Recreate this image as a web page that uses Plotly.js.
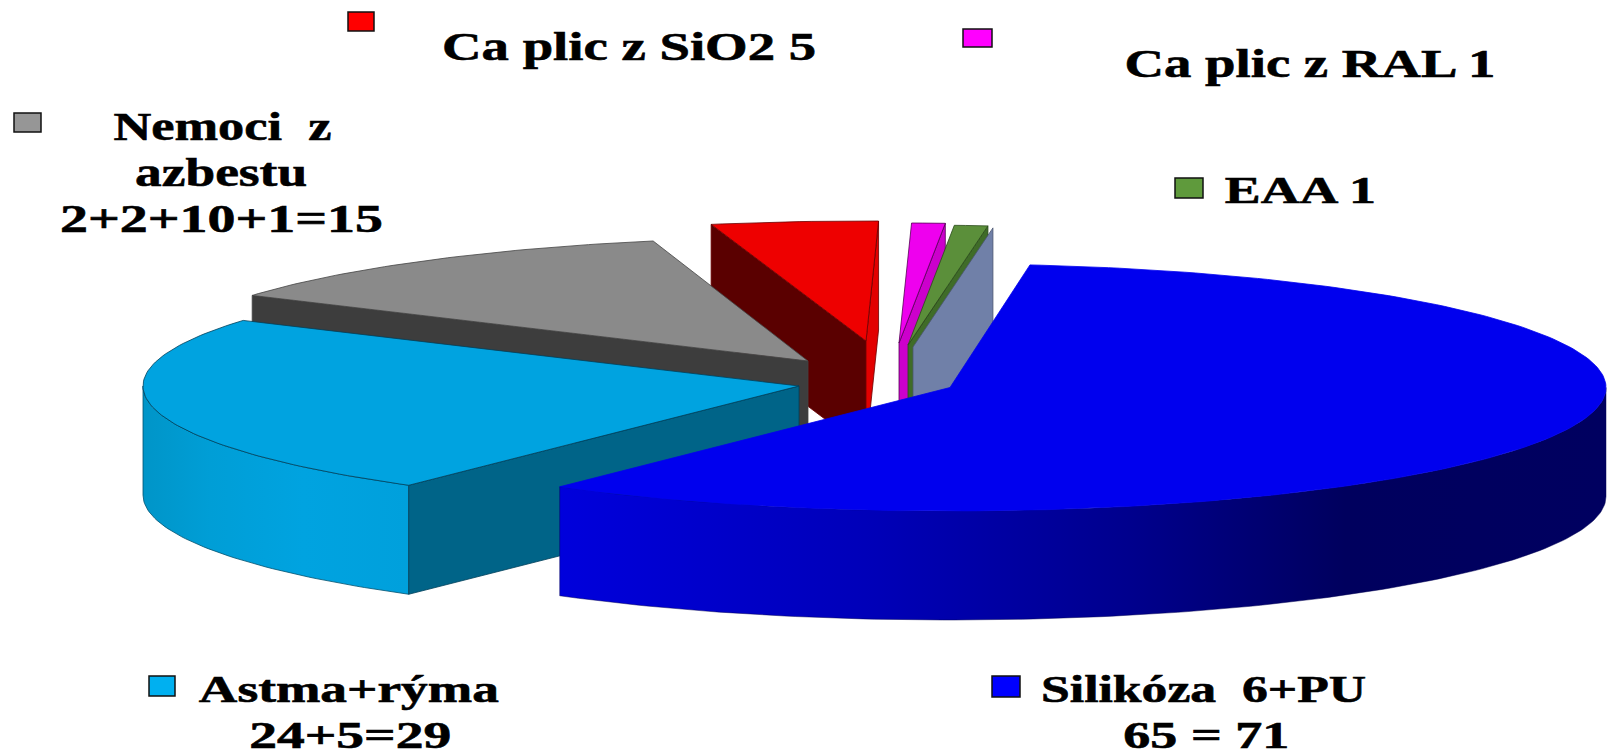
<!DOCTYPE html>
<html><head><meta charset="utf-8">
<script src="https://cdn.plot.ly/plotly-3.0.1.min.js"></script>
<style>html,body{margin:0;padding:0;background:#fff}#chart{width:1612px;height:753px}
.annotation text{stroke:#000;stroke-width:0.6px}</style>
</head><body><div id="chart"></div>
<script>
// ---- data ----
const categories = ['Silikóza', 'Astma+rýma', 'Nemoci z azbestu', 'Ca plic z SiO2', 'Ca plic z RAL', 'EAA'];
const values = [71, 29, 15, 5, 1, 1];

// ---- legend texts, one entry per line ----
const labelLines = [
  ['Silikóza  6+PU', '65 = 71'],
  ['Astma+rýma', '24+5=29'],
  ['Nemoci  z', 'azbestu', '2+2+10+1=15'],
  ['Ca plic z SiO2 5'],
  ['Ca plic z RAL 1'],
  ['EAA 1']
];

// ---- styling ----
const topColors  = ['#0000EE', '#00A3E0', '#8A8A8A', '#EE0000', '#EE00EE', '#5B8F3A'];
const edgeColors = ['#0000EE', '#00405A', '#444444', '#6A0000', '#550055', '#2A4A1A'];
const wallEdges  = ['rgba(0,0,80,0.6)', '#00506E'];
const leftFace   = [null, '#006488', '#3D3D3D', '#5A0000', null, null];
const rightFace  = [null, null, null, '#E20000', '#CC00CC', '#3F6C28'];
const keyColors  = ['#0000FF', '#00B0F0', '#969696', '#FF0000', '#FF00FF', '#5F9A3C'];
const labelSizes = [38, 38, 41, 41, 41, 38];

// ---- exploded-pie geometry (pixels of the plot) ----
const startAngle = 83, radiusX = 656, depth = 109;
const radiusY = [123.5, 123.5, 123.5, 120, 120, 120];
const apexX = [950, 799, 808, 866, 899, 908];
const apexY = [387.5, 386, 361, 341, 343, 345];
const wallGradient = [
  {start: 559, stop: 1607, scale: [[0,'#0000DC'],[0.3,'#0000B8'],[0.55,'#00008C'],[0.75,'#00005E'],[1,'#000060']]},
  {start: 143, stop: 410, scale: [[0,'#0095C8'],[0.25,'#009ED6'],[0.6,'#00A3E0'],[1,'#00A0DC']]}
];
const wallEnd = [0, -180];                                            // rim angle where each wall turns out of sight
const backFace = {color: '#7080A8', edge: '#4A5570', dx: 5, dy: 2};   // pale face behind the EAA slice

// legend key rectangles [x0, y0, x1, y1]
const keyBoxes = [
  [992, 676, 1020, 697], [149, 676, 175, 696], [14, 113, 41, 132],
  [348, 12, 374, 31], [963, 29, 992, 47], [1175, 178, 1203, 198]
];
// centre x, middle y, stretched width of every text line
const lineBoxes = [
  [[1203, 689, 325], [1206, 735, 166]],
  [[349, 689, 300], [350, 735, 202]],
  [[222, 126, 218], [221, 172, 172], [221, 218, 323]],
  [[629, 46, 374]],
  [[1310, 63, 371]],
  [[1300, 190, 151]]
];

// ---- build ----
const total = values.reduce((a, b) => a + b, 0);
const rad = d => d * Math.PI / 180;
function rimPoint(i, ang, drop) {
  return [apexX[i] + radiusX * Math.cos(rad(ang)),
          apexY[i] - radiusY[i] * Math.sin(rad(ang)) + drop];
}
function arc(i, a0, a1, drop) {
  const n = Math.max(2, Math.ceil(Math.abs(a1 - a0)));
  const pts = [];
  for (let k = 0; k <= n; k++) pts.push(rimPoint(i, a0 + (a1 - a0) * k / n, drop));
  return pts;
}
function poly(pts, fill, edge, name, extra) {
  const closed = pts.concat([pts[0]]);
  return Object.assign({
    type: 'scatter', mode: 'lines', name: name, hoverinfo: 'name',
    x: closed.map(p => p[0]), y: closed.map(p => p[1]),
    fill: 'toself', fillcolor: fill,
    line: {color: edge, width: 0.8}, showlegend: false
  }, extra || {});
}

const sliceTraces = values.map((v, i) => {
  const before = values.slice(0, i).reduce((a, b) => a + b, 0);
  const a0 = startAngle - before / total * 360;
  const a1 = a0 - v / total * 360;
  const apex = [apexX[i], apexY[i]], apexLow = [apexX[i], apexY[i] + depth];
  const tr = [];
  const name = categories[i];
  if (wallGradient[i]) {
    const g = wallGradient[i];
    const front = i === 0 ? a1 : a0;        // the rim end lying on the front half
    const upper = arc(i, front, wallEnd[i], 0);
    const lower = arc(i, wallEnd[i], front, depth);
    tr.push(poly(upper.concat(lower), g.scale[0][1], wallEdges[i], name, {
      fillgradient: {type: 'horizontal', start: g.start, stop: g.stop, colorscale: g.scale}
    }));
  }
  if (leftFace[i]) {
    const r = rimPoint(i, a0, 0), rl = rimPoint(i, a0, depth);
    tr.push(poly([apex, r, rl, apexLow], leftFace[i], edgeColors[i], name));
  }
  if (rightFace[i]) {
    const r = rimPoint(i, a1, 0), rl = rimPoint(i, a1, depth);
    tr.push(poly([apex, r, rl, apexLow], rightFace[i], edgeColors[i], name));
  }
  tr.push(poly([apex].concat(arc(i, a0, a1, 0)), topColors[i], edgeColors[i], name));
  if (i === 5) {
    const off = p => [p[0] + backFace.dx, p[1] + backFace.dy];
    const r = rimPoint(i, a1, 0), rl = rimPoint(i, a1, depth);
    tr.push(poly([off(apex), off(r), off(rl), off(apexLow)], backFace.color, backFace.edge, name));
  }
  return tr;
});

// paint from back to front
const paintOrder = [4, 5, 3, 2, 1, 0];
const traces = [];
paintOrder.forEach(i => traces.push(...sliceTraces[i]));

const annotations = [];
const widths = [];
labelLines.forEach((lines, i) => lines.forEach((t, j) => {
  annotations.push({
    text: '<b>' + t + '</b>', showarrow: false, xref: 'x', yref: 'y',
    x: lineBoxes[i][j][0], y: lineBoxes[i][j][1], xanchor: 'center', yanchor: 'middle',
    font: {family: 'Liberation Serif, Times New Roman, serif', size: labelSizes[i], color: '#000000'}
  });
  widths.push(lineBoxes[i][j][2]);
}));

const shapes = keyBoxes.map((b, i) => ({
  type: 'rect', xref: 'x', yref: 'y', x0: b[0], y0: b[1], x1: b[2], y1: b[3],
  fillcolor: keyColors[i], line: {color: '#111111', width: 1.5}
}));

const layout = {
  width: 1612, height: 753, margin: {l: 0, r: 0, t: 0, b: 0},
  paper_bgcolor: '#ffffff', plot_bgcolor: '#ffffff', showlegend: false,
  font: {family: 'Liberation Serif, Times New Roman, serif'},
  xaxis: {range: [0, 1612], visible: false, fixedrange: true},
  yaxis: {range: [753, 0], visible: false, fixedrange: true},
  annotations: annotations, shapes: shapes
};
Plotly.newPlot('chart', traces, layout, {displayModeBar: false, responsive: false}).then(gd => {
  gd.querySelectorAll('.annotation text').forEach((el, k) => {
    el.setAttribute('textLength', widths[k]);
    el.setAttribute('lengthAdjust', 'spacingAndGlyphs');
  });
});
</script></body></html>
